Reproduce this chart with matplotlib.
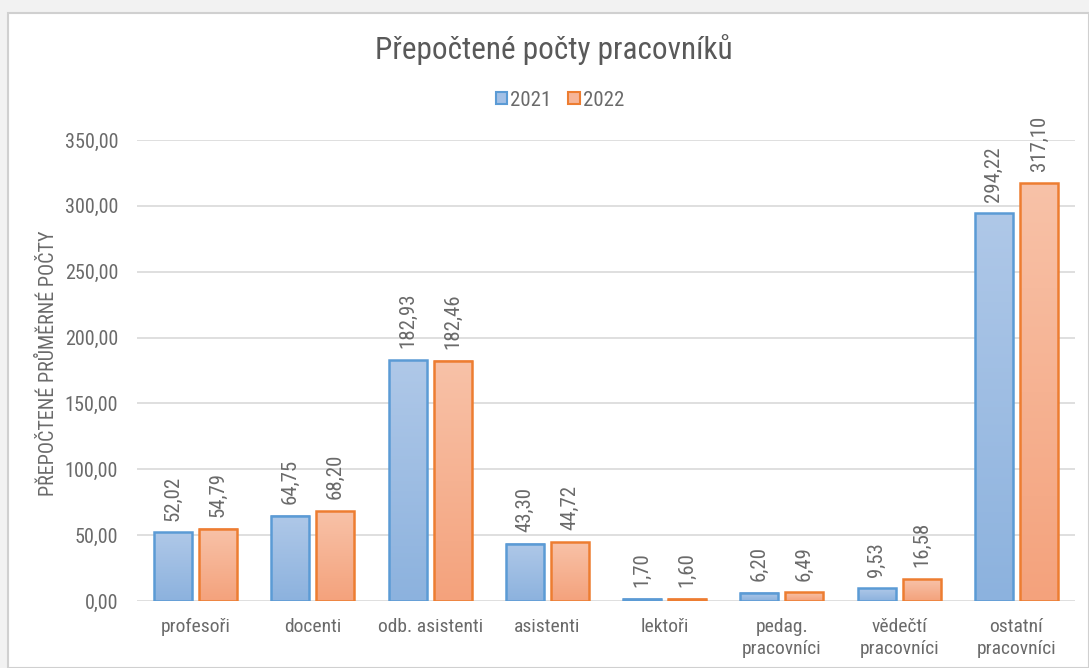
import matplotlib
matplotlib.use("Agg")
import matplotlib.pyplot as plt
import numpy as np
from matplotlib.patches import Rectangle
from matplotlib.colors import LinearSegmentedColormap

categories = ["profesoři", "docenti", "odb. asistenti", "asistenti", "lektoři",
              "pedag.\npracovníci", "vědečtí\npracovníci", "ostatní\npracovníci"]
vals_2021 = [52.02, 64.75, 182.93, 43.30, 1.70, 6.20, 9.53, 294.22]
vals_2022 = [54.79, 68.20, 182.46, 44.72, 1.60, 6.49, 16.58, 317.10]
series_names = ["2021", "2022"]
yticks = [0, 50, 100, 150, 200, 250, 300, 350]

FONT = ["Liberation Sans Narrow", "Roboto Condensed", "Arial Narrow", "Liberation Sans", "DejaVu Sans"]
plt.rcParams['font.family'] = FONT
txt = "#6a6a6a"

W, H = 1089, 668
fig = plt.figure(figsize=(W/100, H/100), dpi=100)
fig.patch.set_facecolor("#f2f2f2")
fig.add_artist(Rectangle((8/W, 0), 1 - 8/W, 1 - 13/H, transform=fig.transFigure,
                         facecolor="white", edgecolor="#d0d0d0", lw=1.5, zorder=0))

ax = fig.add_axes([137/W, 1 - 601/H, (1075-137)/W, (601-140)/H])
ax.set_facecolor("none")
ax.set_yticks(yticks)
ax.set_yticklabels([f"{v:.2f}".replace(".", ",") for v in yticks], fontsize=14.5, color=txt)
ax.set_xticks(range(len(categories)))
ax.set_xticklabels(categories, fontsize=14, color=txt, linespacing=1.3)
ax.tick_params(axis="y", length=0, pad=13.5)
ax.tick_params(axis="x", length=0, pad=12)
for s in ax.spines.values():
    s.set_visible(False)
ax.grid(axis="y", color="#d9d9d9", lw=1.2)
ax.set_axisbelow(True)
ax.set_ylabel("PŘEPOČTENÉ PRŮMĚRNÉ POČTY", fontsize=14.5, color=txt)
ax.yaxis.set_label_coords(-0.084, 0.515)

bw = 0.325
gap = 0.06
cmaps = [LinearSegmentedColormap.from_list("b", ["#8cb2de", "#afc8e8"]),
         LinearSegmentedColormap.from_list("o", ["#f4a27c", "#f8c2a8"])]
edges = ["#5b9bd5", "#ed7d31"]
grad = np.linspace(0, 1, 256).reshape(-1, 1)
x = np.arange(len(categories))
for si, vals in enumerate([vals_2021, vals_2022]):
    offs = (-(bw + gap) / 2) if si == 0 else ((bw + gap) / 2)
    bars = ax.bar(x + offs, vals, bw, facecolor="none", edgecolor=edges[si], lw=1.8,
                  zorder=3, label=series_names[si])
    for b, v in zip(bars, vals):
        x0 = b.get_x()
        ax.imshow(grad, cmap=cmaps[si], origin="lower", aspect="auto",
                  extent=(x0, x0 + bw, 0, v), zorder=2, interpolation="bicubic")
        ax.text(x0 + bw / 2, v + 9, f"{v:.2f}".replace(".", ","), rotation=90,
                ha="center", va="bottom", fontsize=15, color=txt)
ax.set_xlim(-0.5, len(categories) - 0.5)
ax.set_ylim(0, 350)

fig.text(554/W, 1 - 50/H, "Přepočtené počty pracovníků", ha="center", va="center",
         fontsize=22.5, color="#595959")
handles = [Rectangle((0, 0), 1, 1, facecolor=c, edgecolor=e, lw=1.5)
           for c, e in zip(["#a3c0e6", "#f6b598"], edges)]
fig.legend(handles, series_names, loc="center", bbox_to_anchor=(560/W, 1 - 100/H),
           ncol=2, frameon=False, fontsize=15, labelcolor=txt, handlelength=0.55,
           handleheight=0.55, handletextpad=0.15, columnspacing=0.8)

fig.savefig("out.png", dpi=100, facecolor=fig.get_facecolor())
